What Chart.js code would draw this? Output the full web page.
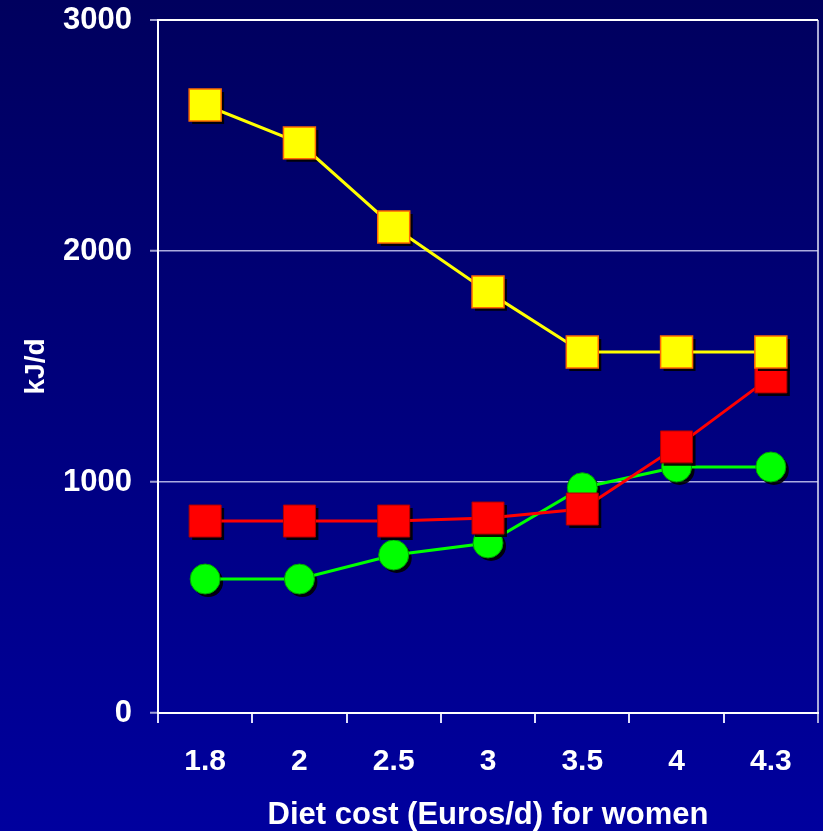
<!DOCTYPE html>
<html>
<head>
<meta charset="utf-8">
<script src="https://cdn.jsdelivr.net/npm/chart.js@4.4.1/dist/chart.umd.min.js"></script>
<style>
  html, body { margin: 0; padding: 0; }
  body { width: 823px; height: 831px; background: linear-gradient(#00005e, #00009e); overflow: hidden; }
  canvas { display: block; }
</style>
</head>
<body>
<canvas id="chart" width="823" height="831"></canvas>
<script>
// diet cost categories (Euros/d)
var costLabels = ["1.8", "2", "2.5", "3", "3.5", "4", "4.3"];
// kJ/d for each series
var yellowValues = [2632, 2468, 2104, 1823, 1563, 1563, 1563];
var redValues = [831, 831, 831, 844, 883, 1152, 1455];
var greenValues = [580, 580, 684, 736, 975, 1065, 1065];
var yTicks = [0, 1000, 2000, 3000];

var fontFamily = "'Liberation Sans', Arial, sans-serif";

// black drop shadow under the markers only
var markerShadow = {
  id: "markerShadow",
  beforeDatasetDraw: function(chart, args) {
    var ctx = chart.ctx;
    ctx.save();
    ctx.fillStyle = "rgba(0,0,0,0.9)";
    args.meta.data.forEach(function(p) {
      var r = p.options.radius;
      ctx.beginPath();
      if (p.options.pointStyle === "rect") {
        var s = r * Math.SQRT1_2;
        ctx.rect(p.x - s + 3, p.y - s + 3, 2 * s, 2 * s);
      } else {
        ctx.arc(p.x + 3, p.y + 3, r, 0, Math.PI * 2);
      }
      ctx.fill();
    });
    ctx.restore();
  }
};

var ctx = document.getElementById("chart");

var data = {
  labels: costLabels,
  datasets: [
    {
      label: "yellow",
      data: yellowValues,
      borderColor: "#ffff00",
      borderWidth: 3,
      pointStyle: "rect",
      pointRadius: 22.6,
      pointBackgroundColor: "#ffff00",
      pointBorderColor: "#ff6a00",
      pointBorderWidth: 1.5,
      tension: 0
    },
    {
      label: "red",
      data: redValues,
      borderColor: "#ff0000",
      borderWidth: 3,
      pointStyle: "rect",
      pointRadius: 22.6,
      pointBackgroundColor: "#ff0000",
      pointBorderColor: "#b00000",
      pointBorderWidth: 1,
      tension: 0
    },
    {
      label: "green",
      data: greenValues,
      borderColor: "#00ff00",
      borderWidth: 3,
      pointStyle: "circle",
      pointRadius: 15,
      pointBackgroundColor: "#00ff00",
      pointBorderColor: "#00a000",
      pointBorderWidth: 1,
      tension: 0
    }
  ]
};

var options = {
  responsive: false,
  animation: false,
  layout: { autoPadding: false, padding: { top: 20, right: 5, left: 0, bottom: 0 } },
  plugins: {
    legend: { display: false },
    tooltip: { enabled: false }
  },
  scales: {
    x: {
      type: "category",
      offset: true,
      grid: {
        offset: true,
        drawOnChartArea: true,
        color: function(c) { return c.tick ? "transparent" : "rgba(190,190,225,0.9)"; },
        tickColor: function(c) { return c.tick ? "rgba(235,235,255,0.95)" : "rgba(190,190,225,0.9)"; },
        tickLength: 10,
        lineWidth: 2,
        tickWidth: 2
      },
      border: { color: "#ffffff", width: 2 },
      ticks: {
        color: "#ffffff",
        font: { family: fontFamily, size: 30, weight: "bold" },
        padding: 21,
        maxRotation: 0,
        autoSkip: false
      },
      title: {
        display: true,
        text: "Diet cost (Euros/d) for women",
        color: "#ffffff",
        font: { family: fontFamily, size: 31, weight: "bold" },
        padding: { top: 4, bottom: -3 }
      },
      afterFit: function(scale) {
        scale.height = 118;
        scale.paddingLeft = 0;
        scale.paddingRight = 0;
      }
    },
    y: {
      min: 0,
      max: 3000,
      afterBuildTicks: function(scale) {
        scale.ticks = yTicks.map(function(v) { return { value: v }; });
      },
      grid: {
        color: function(c) {
          if (c.tick && c.tick.value === 3000) return "#ffffff";
          return "rgba(215,215,250,0.8)";
        },
        lineWidth: function(c) { return (c.tick && c.tick.value === 3000) ? 2 : 1.5; },
        tickColor: "rgba(180,180,220,0.9)",
        tickLength: 8,
        tickWidth: 2
      },
      border: { color: "#ffffff", width: 2 },
      ticks: {
        color: "#ffffff",
        font: { family: fontFamily, size: 31, weight: "bold" },
        padding: 18,
        callback: function(v) { return String(v); }
      },
      title: {
        display: true,
        text: "kJ/d",
        color: "#ffffff",
        font: { family: fontFamily, size: 28, weight: "bold" },
        padding: { top: 19, bottom: 4 }
      },
      afterFit: function(scale) {
        scale.width = 158;
        scale.paddingTop = 0;
        scale.paddingBottom = 0;
      }
    }
  }
};

var chart = new Chart(ctx, {
  type: "line",
  data: data,
  options: options,
  plugins: [markerShadow]
});
</script>
</body>
</html>
